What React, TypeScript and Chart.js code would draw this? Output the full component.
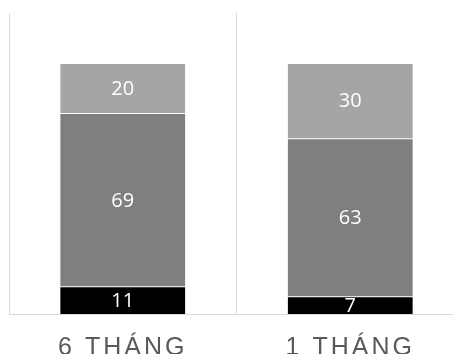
import React, { useEffect, useRef } from "react";
import { Chart, registerables } from "chart.js";

Chart.register(...registerables);

const categories = ["6 THÁNG", "1 THÁNG"];
const seriesBottom = [11, 7];
const seriesMiddle = [69, 63];
const seriesTop = [20, 30];

const labelPlugin = {
  id: "segLabels",
  beforeDraw(chart: any) {
    (chart.ctx as any).letterSpacing = "3px";
  },
  beforeDatasetsDraw(chart: any) {
    (chart.ctx as any).letterSpacing = "0px";
  },
  afterDatasetsDraw(chart: any) {
    const ctx = chart.ctx;
    const area = chart.chartArea;
    ctx.save();
    (ctx as any).letterSpacing = "0px";
    ctx.beginPath();
    ctx.rect(area.left, area.top, area.right - area.left, area.bottom - area.top);
    ctx.clip();
    ctx.fillStyle = "#ffffff";
    ctx.font = "20px 'Open Sans'";
    ctx.textAlign = "center";
    ctx.textBaseline = "middle";
    chart.data.datasets.forEach((ds: any, i: number) => {
      const meta = chart.getDatasetMeta(i);
      meta.data.forEach((bar: any, j: number) => {
        const y = (bar.y + bar.base) / 2;
        ctx.fillText(String(ds.data[j]), bar.x, y + 1);
      });
    });
    ctx.restore();
  },
};

export default function App() {
  const ref = useRef<HTMLCanvasElement>(null);
  useEffect(() => {
    document.body.style.margin = "0";
    const chart = new Chart(ref.current!, {
      type: "bar",
      data: {
        labels: categories,
        datasets: [
          { data: seriesBottom, backgroundColor: "#000000", borderColor: "rgba(255,255,255,0.35)", borderWidth: 0.75 },
          { data: seriesMiddle, backgroundColor: "#7f7f7f", borderColor: "rgba(255,255,255,0.35)", borderWidth: 0.75 },
          { data: seriesTop, backgroundColor: "#a5a5a5", borderColor: "rgba(255,255,255,0.35)", borderWidth: 0.75 },
        ],
      },
      options: {
        animation: false,
        responsive: false,
        maintainAspectRatio: false,
        layout: { padding: { left: 9, top: 13, right: 1, bottom: 0 } },
        plugins: { legend: { display: false }, tooltip: { enabled: false } },
        datasets: { bar: { categoryPercentage: 1, barPercentage: 0.555 } } as any,
        scales: {
          x: {
            stacked: true,
            grid: { display: true, color: "#d9d9d9", lineWidth: 1, drawTicks: false },
            border: { display: true, color: "#d9d9d9" },
            ticks: { color: "#595959", font: { family: "'Liberation Sans'", size: 25 }, padding: 19 },
            afterFit: (s: any) => { s.height = 40; },
          },
          y: {
            stacked: true,
            display: false,
            min: 0,
            max: 120,
          },
        },
      },
      plugins: [labelPlugin],
    });
    return () => chart.destroy();
  }, []);
  return (
    <div style={{ position: "absolute", left: 0, top: 0, width: 453, height: 354, overflow: "hidden" }}>
      <canvas ref={ref} width={465} height={354} style={{ display: "block" }} />
    </div>
  );
}
